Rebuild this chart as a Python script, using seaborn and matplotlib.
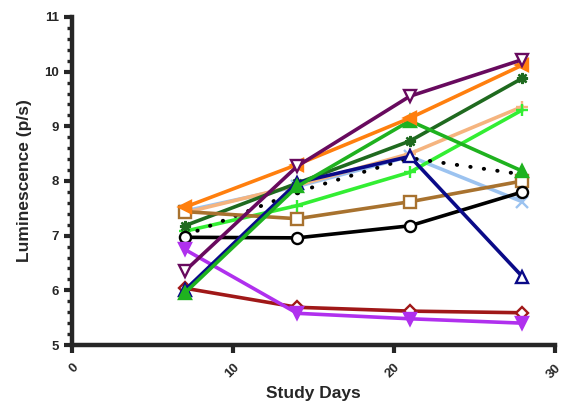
import numpy as np
import pandas as pd
import matplotlib
matplotlib.use("Agg")
import matplotlib.pyplot as plt
import seaborn as sns

# study days and luminescence readings per animal
days = [7, 14, 21, 28]
purple_vals = [6.35, 8.27, 9.55, 10.22]
orange_vals = [7.52, 8.30, 9.15, 10.12]
dkgreen_vals = [7.18, 7.96, 8.73, 9.88]
peach_vals = [7.42, 7.92, 8.50, 9.36]
ltgreen_vals = [7.08, 7.55, 8.16, 9.30]
green_vals = [5.95, 7.90, 9.10, 8.18]
navy_vals = [6.00, 7.97, 8.45, 6.25]
ltblue_vals = [7.45, 7.90, 8.45, 7.62]
dotted_vals = [7.00, 7.80, 8.42, 8.12]
brown_vals = [7.44, 7.31, 7.62, 8.00]
black_vals = [6.97, 6.96, 7.18, 7.80]
violet_vals = [6.75, 5.58, 5.48, 5.40]
red_vals = [6.04, 5.69, 5.62, 5.59]

series = [
    (ltblue_vals, "#9CC3F0", "x", True, "-"),
    (peach_vals, "#F5B47F", "+", True, "-"),
    (ltgreen_vals, "#33EE33", "+", True, "-"),
    (dkgreen_vals, "#1F6A1F", (8, 2, 0), True, "-"),
    (dotted_vals, "black", "o", True, ":"),
    (brown_vals, "#A8722F", "s", False, "-"),
    (black_vals, "black", "o", False, "-"),
    (red_vals, "#A01818", "D", False, "-"),
    (violet_vals, "#B030EE", "v", True, "-"),
    (navy_vals, "#0A0A88", "^", False, "-"),
    (green_vals, "#1FB21F", "^", True, "-"),
    (orange_vals, "#FF7F0E", "<", True, "-"),
    (purple_vals, "#680A5E", "v", False, "-"),
]

sns.set_style("ticks")
plt.rcParams['font.family'] = ['Liberation Sans', 'DejaVu Sans']
plt.rcParams['font.weight'] = 'bold'

fig = plt.figure(figsize=(5.63, 4.04), dpi=100)
ax = fig.add_axes([0.128, 0.146, 0.857, 0.812])

for vals, col, mk, filled, ls in series:
    df = pd.DataFrame({'Day': days, 'Lum': vals})
    if ls == ":":
        sns.lineplot(data=df, x='Day', y='Lum', ax=ax, color=col, lw=2.8,
                     linestyle=(0, (0.1, 3.4)), dash_capstyle='round',
                     marker='o', markersize=4, markeredgewidth=0)
    else:
        sns.lineplot(data=df, x='Day', y='Lum', ax=ax, color=col, lw=2.6,
                     marker=mk, markersize=8 if mk != 'D' else 6.5,
                     markerfacecolor=col if filled else 'white',
                     markeredgecolor=col, markeredgewidth=1.7)

ax.set_xlim(0, 30)
ax.set_ylim(5, 11)
ax.set_xticks([0, 10, 20, 30])
ax.set_yticks([5, 6, 7, 8, 9, 10, 11])
ax.set_yticks(np.arange(5, 11, 0.2), minor=True)
ax.tick_params(axis='both', which='major', width=3, length=6, labelsize=9.5)
ax.tick_params(axis='x', which='major', pad=6)
ax.tick_params(axis='y', which='minor', width=2.4, length=3.5)
for lbl in ax.get_xticklabels():
    lbl.set_rotation(45)
    lbl.set_ha('right')
    lbl.set_rotation_mode('anchor')
    lbl.set_fontweight('bold')
for lbl in ax.get_yticklabels():
    lbl.set_fontweight('bold')

for s in ['left', 'bottom']:
    ax.spines[s].set_linewidth(3.2)
sns.despine(ax=ax)

ax.set_xlabel('Study Days', fontsize=12.5, fontweight='bold', labelpad=4)
ax.set_ylabel('Luminescence (p/s)', fontsize=12.5, fontweight='bold', labelpad=9)

fig.savefig('out.png', dpi=100)
